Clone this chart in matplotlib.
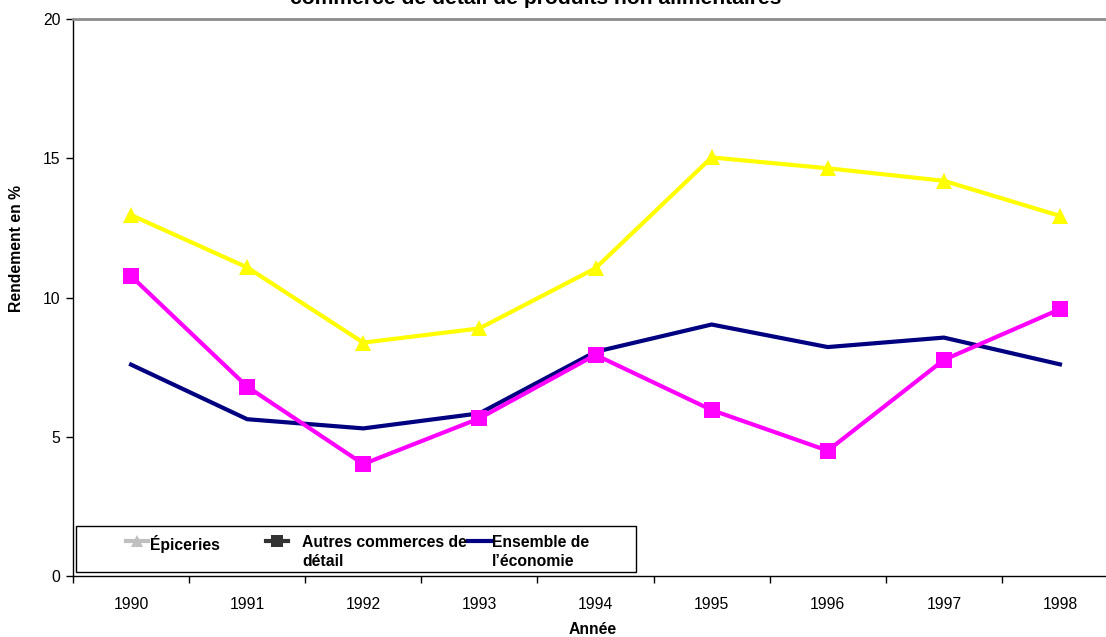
import matplotlib
matplotlib.use("Agg")
import matplotlib.pyplot as plt
from matplotlib.lines import Line2D
from matplotlib.patches import Rectangle

plt.rcParams['font.family'] = ['Liberation Sans', 'DejaVu Sans']

years = ['1990', '1991', '1992', '1993', '1994', '1995', '1996', '1997', '1998']
epiceries = [12.96, 11.08, 8.38, 8.89, 11.05, 15.03, 14.64, 14.19, 12.93]
autres_commerces = [10.77, 6.80, 4.02, 5.66, 7.94, 5.96, 4.50, 7.76, 9.58]
ensemble_economie = [7.59, 5.63, 5.30, 5.84, 8.05, 9.03, 8.22, 8.56, 7.60]

legend_labels = ['Épiceries', 'Autres commerces de\ndétail', 'Ensemble de\nl\u2019économie']
title_text = 'commerce de détail de produits non alimentaires'

W, H = 1106, 637
FS = 11.3

fig = plt.figure(figsize=(W / 100, H / 100), dpi=100)


def fx(px):
    return px / W


def fy(py):
    return 1 - py / H


# plot area: right edge runs slightly past the figure
ax = fig.add_axes([fx(73), fy(576), fx(1118) - fx(73), fy(19) - fy(576)])

x = list(range(len(years)))
ax.plot(x, epiceries, color='#FFFF00', lw=3, marker='^', ms=12,
        markeredgewidth=0, zorder=3)
ax.plot(x, autres_commerces, color='#FF00FF', lw=3, marker='s', ms=12,
        markeredgewidth=0, zorder=4)
ax.plot(x, ensemble_economie, color='#000080', lw=3, zorder=2,
        solid_joinstyle='miter')

ax.set_xlim(-0.5, len(years) - 0.5)
ax.set_ylim(0, 20)
ax.set_yticks([0, 5, 10, 15, 20])
ax.set_xticks(x)
ax.set_xticklabels(years)
ax.set_xticks([i + 0.5 for i in range(-1, len(years))], minor=True)
ax.tick_params(axis='x', which='major', length=0, pad=15, labelsize=FS)
ax.tick_params(axis='x', which='minor', length=5, width=1, direction='out')
ax.tick_params(axis='y', length=5, width=1, direction='out', pad=4, labelsize=FS)

for side in ('left', 'bottom'):
    ax.spines[side].set_color('black')
    ax.spines[side].set_linewidth(1)
ax.spines['top'].set_color('#8c8c8c')
ax.spines['top'].set_linewidth(2)
ax.spines['right'].set_visible(False)

fig.text(fx(17), fy(249), 'Rendement en %', rotation=90, ha='center', va='center',
         fontsize=FS, fontweight='bold')
fig.text(fx(593), fy(630), 'Année', ha='center', va='center',
         fontsize=FS, fontweight='bold')
fig.text(fx(536), fy(4), title_text, ha='center', va='baseline',
         fontsize=15.2, fontweight='bold')

# legend box
fig.patches.append(Rectangle((fx(76), fy(572)), fx(636) - fx(76), fy(526) - fy(572),
                             transform=fig.transFigure, facecolor='white',
                             edgecolor='black', lw=1, zorder=5))
handles = [
    dict(x0=126, x1=148, color='#c0c0c0', marker='^'),
    dict(x0=266, x1=288, color='#333333', marker='s'),
    dict(x0=468, x1=492, color='#000080', marker=None),
]
text_x = [150, 302, 492]
for h, tx, lab in zip(handles, text_x, legend_labels):
    fig.lines.append(Line2D([fx(h['x0']), fx(h['x1'])], [fy(541), fy(541)],
                            transform=fig.transFigure, color=h['color'], lw=3,
                            zorder=6))
    if h['marker']:
        fig.lines.append(Line2D([fx((h['x0'] + h['x1']) / 2)], [fy(541)],
                                transform=fig.transFigure, color=h['color'],
                                marker=h['marker'], ms=8, markeredgewidth=0,
                                zorder=7))
    fig.text(fx(tx), fy(535), lab, ha='left', va='top', fontsize=FS,
             fontweight='bold', linespacing=1.3, zorder=7)

fig.savefig('out.png', dpi=100)
